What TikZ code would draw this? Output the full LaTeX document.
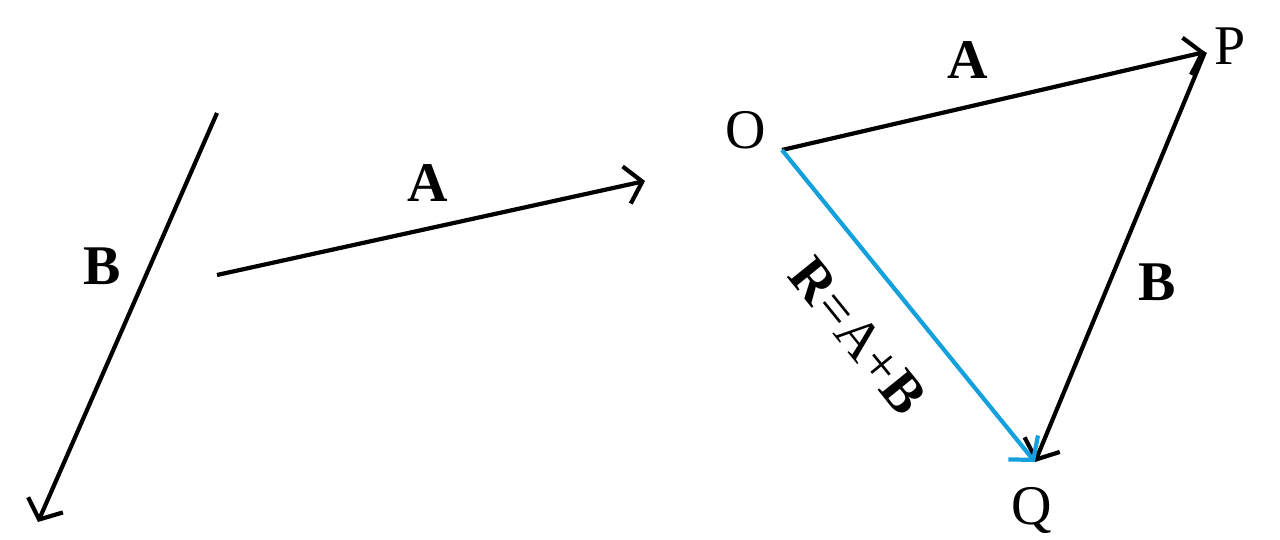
\documentclass[tikz,border=0pt]{standalone}
\usepackage{fontspec}
\setmainfont{Liberation Serif}
\usetikzlibrary{arrows.meta}
\definecolor{resblue}{RGB}{20,160,220}
\begin{document}
\begin{tikzpicture}[x=1pt,y=-1pt,
  vec/.style={line width=4.2pt,-{Straight Barb[length=16pt,width=38pt,line width=4.2pt]}},
  lbl/.style={font=\fontsize{56}{62}\selectfont,inner sep=0pt}]
\useasboundingbox[fill=white] (0,0) rectangle (1280,540);
% left vectors
\coordinate (b1) at (217,113);
\coordinate (b2) at (38,522);
\draw[vec] (b1) -- (b2);
\node[lbl] (lB) at (102,266) {\textbf{B}};
\coordinate (a1) at (217,275);
\coordinate (a2) at (645,181);
\draw[vec] (a1) -- (a2);
\node[lbl] (lA) at (428,183) {\textbf{A}};
% triangle
\coordinate (O) at (782,150);
\coordinate (P) at (1205,52);
\coordinate (Q) at (1035,462);
\draw[vec] (O) -- (P);
\draw[vec] (P) -- (Q);
\draw[vec,resblue] (O) -- (Q);
\node[lbl] (lO) at (746,130) {O};
\node[lbl] (lP) at (1230,46) {P};
\node[lbl] (lQ) at (1032,510) {Q};
\node[lbl] (lA2) at (968,60) {\textbf{A}};
\node[lbl] (lB2) at (1157,282) {\textbf{B}};
\node[lbl,rotate=-51] (lR) at (858,336) {\textbf{R}=A+\textbf{B}};
\end{tikzpicture}
\end{document}
